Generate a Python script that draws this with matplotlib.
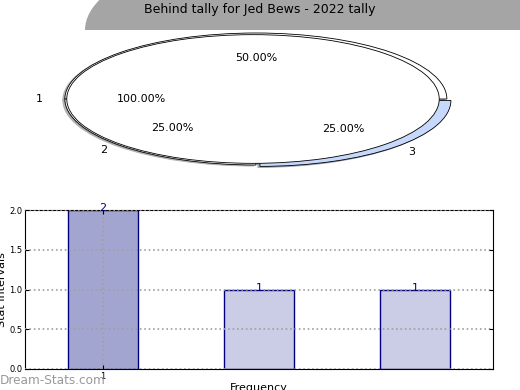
import matplotlib
matplotlib.use("Agg")
import matplotlib.pyplot as plt
from matplotlib.patches import Ellipse, Rectangle

# Data
title = "Behind tally for Jed Bews - 2022 tally"
outer_labels = ["1", "2", "3"]
outer_vals = [2, 1, 1]
inner_labels = ["1"]
inner_vals = [4]

bar_cats = ["1", "2", "3"]
bar_vals = [2, 1, 1]
bar_colors = ["#a3a5d1", "#cbcce6", "#cbcce6"]

fig = plt.figure(figsize=(5.2, 3.9), dpi=100)

# gray header shape behind the title
header = Ellipse((335 / 520, 360 / 390), 500 / 520, 180 / 390,
                 transform=fig.transFigure, facecolor="#a5a5a5",
                 edgecolor="none", zorder=0)
clip = Rectangle((0, 360 / 390), 1, 30 / 390, transform=fig.transFigure)
fig.patches.append(header)
header.set_clip_path(clip)
fig.text(0.5, 1 - 10 / 390, title, ha="center", va="center", fontsize=9)

# pie chart (elliptical, aspect not equal)
shadow = {"ox": -0.008, "oy": -0.012, "shade": 0.5}
ax1 = fig.add_axes([62 / 520, (390 - 165) / 390, 382 / 520, 132 / 390])
ax1.pie(outer_vals, labels=outer_labels, colors=["white", "white", "#c6d9fd"],
        startangle=0, radius=1.0, center=(0.015, 0),
        explode=[0.0, 0.0, 0.03], shadow=shadow,
        autopct="%.2f%%", pctdistance=0.62, labeldistance=1.1,
        wedgeprops=dict(edgecolor="black", linewidth=0.6),
        textprops=dict(fontsize=8))
ax1.pie(inner_vals, labels=inner_labels, colors=["white"], startangle=0,
        radius=0.975, shadow=shadow, autopct="%.2f%%", pctdistance=0.6,
        labeldistance=1.13,
        wedgeprops=dict(edgecolor="black", linewidth=0.6),
        textprops=dict(fontsize=8))
ax1.set_aspect("auto")
ax1.set_xlim(-1.0, 1.0)
ax1.set_ylim(-1.0, 1.0)
ax1.axis("off")

# bar chart
ax2 = fig.add_axes([25 / 520, 21 / 390, 468 / 520, 159 / 390])
x = list(range(len(bar_vals)))
bars = ax2.bar(x, bar_vals, width=0.45, color=bar_colors, edgecolor="navy",
               linewidth=1, zorder=2)
for xi, v in zip(x, bar_vals):
    ax2.text(xi, v - 0.04, str(v), ha="center", va="bottom", color="navy",
             fontsize=8, zorder=4)
ax2.set_xlim(-0.5, 2.5)
ax2.set_ylim(0, 2.0)
ax2.set_yticks([0.0, 0.5, 1.0, 1.5, 2.0])
ax2.set_xticks([0])
ax2.set_xticklabels([bar_cats[0]])
ax2.tick_params(labelsize=6, direction="in", length=3, pad=2,
                top=True, right=True)
ax2.set_axisbelow(False)
ax2.grid(True, linestyle=":", color="#a0a0a0", linewidth=1.2)
ax2.set_ylabel("Stat Intervals", fontsize=8)
ax2.yaxis.set_label_coords(-0.038, 0.5)
ax2.set_xlabel("Frequency", fontsize=8)
ax2.xaxis.set_label_coords(0.5, -0.088)

fig.text(0, 10 / 390, "Dream-Stats.com", color="#999999", fontsize=8.7,
         ha="left", va="center")

fig.savefig("out.png", dpi=100)
